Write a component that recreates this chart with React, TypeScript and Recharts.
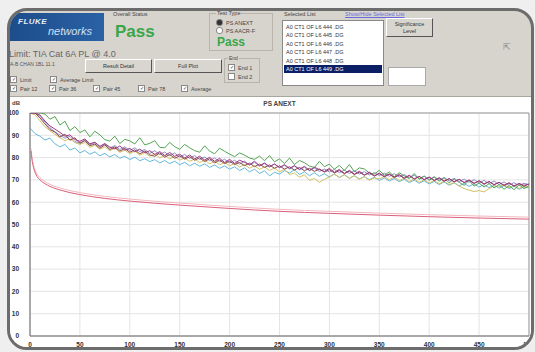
import React from "react";
import { LineChart, Line, XAxis, YAxis, CartesianGrid, ReferenceArea } from "recharts";

// Frequency sample points (MHz), every 5 MHz from 0 to 500
const FREQ: number[] = Array.from({ length: 101 }, (_, i) => i * 5);

const X_TICKS = [0, 50, 100, 150, 200, 250, 300, 350, 400, 450, 500];
const Y_TICKS = [0, 10, 20, 30, 40, 50, 60, 70, 80, 90, 100];

// PS ANEXT per pair (dB)
const PAIR_GREEN = [
  100, 100, 100, 99.5, 97.2, 98.4, 94.6, 96.3, 92.1, 93.9,
  91.2, 92.4, 89.3, 91.8, 90.2, 88.1, 87.4, 89.6, 86.3, 88.2,
  87.5, 86.1, 88.9, 85.7, 86.4, 87.6, 84.6, 84.4, 86.8, 84.9,
  83.7, 85.9, 84.4, 83.1, 82.4, 85.3, 82.9, 81.7, 84.2, 82.8,
  81.6, 80.4, 82.1, 81.1, 79.8, 79.2, 80.7, 78.6, 80.9, 78.1,
  79.4, 77.3, 79.8, 76.9, 78.7, 77.7, 76.2, 75.6, 78.3, 75.9,
  77.1, 74.8, 76.5, 74.2, 76.9, 73.7, 75.4, 74.9, 73.1, 72.6,
  74.3, 72.1, 73.6, 71.4, 73.2, 71.8, 70.6, 72.9, 70.2, 71.7,
  69.8, 71.3, 69.4, 70.9, 68.7, 70.4, 68.9, 67.6, 69.8, 67.2,
  68.6, 66.8, 68.3, 66.4, 67.9, 65.8, 67.4, 65.6, 67.8, 66.1,
  67.3,
];
const PAIR_MAGENTA = [
  100, 100, 99.1, 96.4, 94.2, 92.8, 91.3, 89.6, 90.2, 88.1,
  87.3, 88.4, 86.2, 86.9, 85.1, 86.3, 84.7, 83.9, 85.2, 83.4,
  84.1, 82.6, 83.8, 82.2, 83.1, 81.4, 82.7, 80.9, 82.3, 80.6,
  81.5, 79.8, 81.2, 79.4, 80.6, 78.9, 80.1, 78.3, 79.7, 77.8,
  79.2, 77.4, 78.8, 77.9, 76.8, 78.4, 76.3, 77.6, 75.9, 77.2,
  75.6, 76.8, 75.2, 76.4, 74.8, 76.1, 74.3, 75.7, 74.6, 73.8,
  75.2, 73.4, 74.7, 72.9, 74.3, 72.6, 73.9, 72.2, 73.5, 71.8,
  73.1, 71.5, 72.7, 71.2, 72.4, 70.8, 72.1, 70.4, 71.6, 70.1,
  71.3, 69.7, 70.9, 69.4, 70.6, 69.1, 70.2, 68.8, 69.9, 68.4,
  69.6, 68.1, 69.3, 67.8, 68.9, 67.5, 68.7, 67.2, 68.4, 67.6,
  68.1,
];
const PAIR_BROWN = [
  100, 100, 97.8, 95.1, 92.6, 91.4, 89.2, 90.5, 87.8, 88.9,
  86.4, 87.6, 85.3, 86.1, 84.2, 85.7, 83.6, 84.8, 82.9, 84.1,
  82.4, 83.5, 81.7, 82.9, 81.2, 80.6, 82.1, 80.2, 81.4, 79.7,
  80.8, 79.3, 80.4, 78.8, 79.9, 78.2, 79.5, 77.6, 78.9, 77.3,
  78.4, 76.9, 77.8, 76.4, 77.5, 75.9, 77.1, 75.6, 76.7, 75.2,
  76.3, 74.8, 75.9, 74.4, 75.6, 74.1, 75.2, 73.8, 74.9, 73.5,
  74.6, 73.1, 74.2, 72.8, 73.9, 72.4, 73.5, 72.1, 73.2, 71.7,
  72.8, 71.4, 72.5, 71.1, 72.2, 70.7, 71.9, 70.4, 71.5, 70.1,
  71.2, 69.8, 70.9, 69.5, 70.5, 69.2, 70.3, 68.8, 69.9, 68.5,
  69.6, 68.2, 69.2, 67.9, 68.9, 67.6, 68.6, 67.3, 68.3, 67.1,
  68.2,
];
const PAIR_CYAN = [
  93.2, 90.8, 89.6, 87.9, 88.7, 86.2, 84.8, 85.9, 83.4, 84.3,
  82.1, 83.2, 81.5, 82.6, 80.8, 81.9, 80.3, 81.4, 79.7, 80.6,
  79.1, 80.2, 78.6, 79.5, 78.2, 79.1, 77.6, 78.7, 77.3, 78.4,
  76.8, 77.9, 76.3, 77.5, 76.1, 77.2, 75.6, 76.7, 75.2, 76.3,
  74.8, 75.9, 74.2, 75.4, 73.6, 74.8, 72.9, 74.1, 71.8, 73.4,
  72.6, 74.2, 73.1, 74.5, 72.4, 73.6, 71.9, 73.2, 71.6, 72.8,
  71.3, 72.6, 71.1, 72.3, 70.7, 71.9, 70.4, 71.5, 70.1, 71.2,
  69.8, 70.9, 69.5, 70.6, 69.2, 70.3, 68.8, 69.9, 68.5, 69.6,
  68.2, 69.3, 67.9, 69.1, 67.6, 68.7, 67.3, 68.4, 67.1, 68.2,
  66.8, 67.9, 66.5, 67.6, 66.3, 67.4, 66.1, 67.2, 65.8, 66.9,
  66.4,
];
const PAIR_YELLOW = [
  100, 99.2, 96.5, 93.8, 92.1, 90.4, 88.9, 87.6, 88.4, 86.7,
  85.9, 86.8, 84.6, 85.5, 83.8, 84.9, 83.1, 84.2, 82.4, 83.3,
  81.8, 82.9, 81.1, 82.2, 80.6, 81.7, 79.9, 81.1, 79.4, 80.5,
  78.9, 79.8, 78.3, 79.4, 77.8, 78.9, 77.2, 78.4, 76.8, 77.9,
  76.3, 77.4, 75.8, 76.9, 75.2, 76.4, 74.7, 75.9, 74.2, 75.3,
  73.6, 74.8, 72.4, 73.1, 71.2, 72.3, 69.8, 70.6, 68.9, 70.2,
  71.4, 72.6, 71.1, 72.3, 70.7, 71.8, 70.3, 71.4, 69.9, 70.9,
  70.4, 71.6, 70.1, 71.3, 69.7, 70.8, 69.3, 70.5, 68.9, 70.1,
  68.6, 69.7, 68.3, 69.4, 67.9, 68.8, 67.2, 66.1, 65.4, 64.8,
  65.2, 64.6, 66.1, 67.3, 66.8, 67.9, 66.5, 67.6, 66.2, 67.1,
  66.7,
];
const PAIR_LAVENDER = [
  100, 100, 98.6, 95.9, 93.4, 91.6, 90.1, 88.7, 89.5, 87.2,
  86.5, 87.9, 85.8, 86.7, 84.9, 86.1, 84.3, 85.4, 83.6, 84.8,
  83.2, 84.4, 82.7, 83.6, 81.9, 83.1, 81.3, 82.5, 80.8, 82.1,
  80.2, 81.4, 79.7, 80.9, 79.1, 80.3, 78.6, 79.8, 78.1, 79.3,
  77.6, 78.8, 77.1, 78.4, 76.6, 77.9, 76.2, 77.3, 75.8, 77.1,
  75.4, 76.6, 74.9, 76.2, 74.5, 75.7, 74.1, 75.3, 73.8, 74.9,
  73.5, 74.7, 73.2, 74.4, 72.9, 74.1, 72.6, 73.7, 72.2, 73.3,
  71.9, 73.1, 71.6, 72.8, 71.3, 72.4, 70.9, 72.1, 70.6, 71.7,
  70.2, 71.4, 69.9, 71.1, 69.6, 70.7, 69.2, 70.4, 68.9, 70.1,
  68.6, 69.8, 68.3, 69.5, 67.9, 69.1, 67.6, 68.8, 67.4, 68.5,
  67.9,
];

// Limit curves
const LIMIT_FREQ = [1, 2, 3, 4, 5, 7, 10, 15, 20, 30, 40, 50, 75, 100, 150, 200, 250, 300, 350, 400, 450, 500];
const LIMIT = [83, 79, 76.5, 74.8, 73.4, 71.6, 70, 68.3, 67.1, 65.5, 64.3, 63.4, 61.7, 60.5, 58.7, 57.2, 55.9, 55.0, 54.2, 53.5, 52.9, 52.4];
const AVG_LIMIT = [84.2, 80.2, 77.6, 75.8, 74.4, 72.6, 71.0, 69.2, 68.0, 66.4, 65.2, 64.3, 62.6, 61.4, 59.6, 58.1, 56.8, 55.9, 55.1, 54.4, 53.8, 53.3];

const LIST_ITEMS = [
  "A0 CT1 OF L6 444 .DG",
  "A0 CT1 OF L6 445 .DG",
  "A0 CT1 OF L6 446 .DG",
  "A0 CT1 OF L6 447 .DG",
  "A0 CT1 OF L6 448 .DG",
  "A0 CT1 OF L6 449 .DG",
];

const pairData = FREQ.map((f, i) => ({
  f,
  g: PAIR_GREEN[i],
  m: PAIR_MAGENTA[i],
  b: PAIR_BROWN[i],
  c: PAIR_CYAN[i],
  y: PAIR_YELLOW[i],
  l: PAIR_LAVENDER[i],
}));
const limitData = LIMIT_FREQ.map((f, i) => ({ f, lim: LIMIT[i], avg: AVG_LIMIT[i] }));

const FONT = '"Liberation Sans", Arial, sans-serif';

const abs = (left: number, top: number, extra: React.CSSProperties = {}): React.CSSProperties => ({
  position: "absolute",
  left,
  top,
  ...extra,
});

const Check = ({ x, y, label, checked = true }: { x: number; y: number; label: string; checked?: boolean }) => (
  <div style={abs(x, y, { display: "flex", alignItems: "center", fontSize: 5.5, color: "#444", whiteSpace: "nowrap" })}>
    <span
      style={{
        width: 5,
        height: 5,
        border: "1px solid #888",
        background: "#fff",
        marginRight: 3,
        fontSize: 5,
        lineHeight: "5px",
        textAlign: "center",
        color: "#333",
      }}
    >
      {checked ? "✓" : ""}
    </span>
    {label}
  </div>
);

const Radio = ({ x, y, label, on }: { x: number; y: number; label: string; on: boolean }) => (
  <div style={abs(x, y, { display: "flex", alignItems: "center", fontSize: 5.5, color: "#444", whiteSpace: "nowrap" })}>
    <span
      style={{
        width: 5,
        height: 5,
        borderRadius: 3,
        border: "1px solid #888",
        background: on ? "#333" : "#fff",
        marginRight: 3,
      }}
    />
    {label}
  </div>
);

const Button = ({ x, y, w, h, label }: { x: number; y: number; w: number; h: number; label: React.ReactNode }) => (
  <div
    style={abs(x, y, {
      width: w,
      height: h,
      boxSizing: "border-box",
      border: "1px solid #555",
      borderTopColor: "#fff",
      borderLeftColor: "#fff",
      background: "#d9d6d0",
      fontSize: 5.5,
      color: "#333",
      display: "flex",
      alignItems: "center",
      justifyContent: "center",
      textAlign: "center",
      lineHeight: 1.1,
    })}
  >
    {label}
  </div>
);

export default function App() {
  return (
    <div style={{ position: "absolute", left: 0, top: 0, width: 535, height: 352, background: "#efefef", overflow: "hidden", fontFamily: FONT }}>
      <div
        style={abs(7, 8, {
          width: 527,
          height: 342,
          boxSizing: "border-box",
          border: "3px solid #6c6c6c",
          borderRadius: 20,
          overflow: "hidden",
          background: "#d7d4ce",
        })}
      >
        <div style={abs(-10, -11, { width: 535, height: 352 })}>
          {/* Fluke logo */}
          <div style={abs(8, 13, { width: 96, height: 28, background: "linear-gradient(90deg,#1d4c8a,#2a62a6)" })}>
            <div style={abs(10, 4, { fontSize: 8, fontWeight: "bold", fontStyle: "italic", color: "#e8eef8", letterSpacing: 0.5 })}>FLUKE</div>
            <div style={abs(40, 12, { fontSize: 11, color: "#cfe0f4", fontStyle: "italic" })}>networks</div>
          </div>
          {/* Overall status */}
          <div style={abs(113, 11, { fontSize: 5.5, color: "#444" })}>Overall Status</div>
          <div style={abs(115, 23, { fontSize: 17, lineHeight: 1, fontWeight: "bold", color: "#3aa64a" })}>Pass</div>

          {/* Test type group */}
          <div style={abs(209, 13, { width: 64, height: 38, border: "1px solid #b8b4ac", boxSizing: "border-box" })} />
          <div style={abs(216, 10, { fontSize: 5.5, color: "#444", background: "#d7d4ce", padding: "0 1px" })}>Test Type</div>
          <Radio x={216} y={19} label="PS ANEXT" on={true} />
          <Radio x={216} y={27} label="PS AACR-F" on={false} />
          <div style={abs(217, 36, { fontSize: 12, lineHeight: 1, fontWeight: "bold", color: "#3aa64a" })}>Pass</div>

          {/* Selected list */}
          <div style={abs(284, 11, { fontSize: 5.5, color: "#444" })}>Selected List</div>
          <div style={abs(345, 11, { fontSize: 5.5, color: "#6a6adf", textDecoration: "underline" })}>Show/Hide Selected List</div>
          <div style={abs(282, 20, { width: 102, height: 66, background: "#fff", border: "1px solid #888", boxSizing: "border-box" })}>
            {LIST_ITEMS.map((t, i) => (
              <div
                key={t}
                style={{
                  position: "absolute",
                  left: 1,
                  top: 2 + i * 8.4,
                  width: 98,
                  height: 8,
                  fontSize: 5.5,
                  lineHeight: "8px",
                  paddingLeft: 2,
                  boxSizing: "border-box",
                  color: i === 5 ? "#fff" : "#333",
                  background: i === 5 ? "#0a1f66" : "transparent",
                }}
              >
                {t}
              </div>
            ))}
          </div>
          <Button x={386} y={18} w={47} h={19} label={<span>Significance<br />Level</span>} />
          <div style={abs(388, 67, { width: 38, height: 19, background: "#fff", border: "1px solid #aaa", boxSizing: "border-box" })} />

          {/* cursor */}
          <div style={abs(503, 42, { fontSize: 9, color: "#888" })}>⇱</div>

          {/* Limit text */}
          <div style={abs(9, 49, { fontSize: 9, color: "#666", whiteSpace: "nowrap" })}>Limit: TIA Cat 6A PL @ 4.0</div>
          <div style={abs(10, 61, { fontSize: 5, color: "#555", whiteSpace: "nowrap" })}>A-B CHAN 1BL 11.1</div>
          <Button x={85} y={59} w={67} h={14} label="Result Detail" />
          <Button x={154} y={59} w={68} h={14} label="Full Plot" />

          {/* End group */}
          <div style={abs(224, 58, { width: 36, height: 25, border: "1px solid #b8b4ac", boxSizing: "border-box" })} />
          <div style={abs(228, 55, { fontSize: 5, color: "#444", background: "#d7d4ce", padding: "0 1px" })}>End</div>
          <Check x={228} y={64} label="End 1" />
          <Check x={228} y={73} label="End 2" checked={false} />

          {/* Checkbox rows */}
          <Check x={10} y={76} label="Limit" />
          <Check x={50} y={76} label="Average Limit" />
          <Check x={10} y={85} label="Pair 12" />
          <Check x={49} y={85} label="Pair 36" />
          <Check x={93} y={85} label="Pair 45" />
          <Check x={138} y={85} label="Pair 78" />
          <Check x={181} y={85} label="Average" />

          {/* Chart panel */}
          <div style={abs(10, 96, { width: 530, height: 260, background: "#fff", borderTop: "1px solid #a9a6a0" })} />
          <div style={abs(12, 100, { fontSize: 6, fontWeight: "bold", color: "#444" })}>dB</div>
          <div style={abs(229, 100, { width: 101, textAlign: "center", fontSize: 6.5, fontWeight: "bold", color: "#444" })}>PS ANEXT</div>

          <div style={abs(0, 96, {})}>
            <LineChart width={535} height={256} data={pairData} margin={{ top: 17, right: 6, left: 10, bottom: 2 }}>
              <CartesianGrid stroke="#e4e4e4" strokeWidth={1} />
              <XAxis
                dataKey="f"
                type="number"
                domain={[0, 500]}
                ticks={X_TICKS}
                interval={0}
                height={14}
                tickLine={false}
                axisLine={{ stroke: "#8c8c8c" }}
                tickMargin={0}
                tick={{ fontSize: 6.5, fill: "#333", fontWeight: "bold", fontFamily: FONT }}
              />
              <YAxis
                type="number"
                domain={[0, 100]}
                ticks={Y_TICKS}
                interval={0}
                width={20}
                allowDataOverflow
                tickLine={false}
                axisLine={{ stroke: "#8c8c8c" }}
                tickMargin={5}
                tick={{ fontSize: 6.5, fill: "#333", fontWeight: "bold", fontFamily: FONT }}
              />
              <ReferenceArea x1={0} x2={500} y1={0} y2={100} fill="none" stroke="#9a9a9a" strokeWidth={1} ifOverflow="visible" />
              <Line data={limitData} dataKey="avg" type="monotone" stroke="#f2b7bd" strokeWidth={1} dot={false} isAnimationActive={false} />
              <Line data={limitData} dataKey="lim" type="monotone" stroke="#d9607a" strokeWidth={1} dot={false} isAnimationActive={false} />
              <Line dataKey="c" type="linear" stroke="#62b8dc" strokeWidth={1} dot={false} isAnimationActive={false} />
              <Line dataKey="y" type="linear" stroke="#cfc063" strokeWidth={1} dot={false} isAnimationActive={false} />
              <Line dataKey="l" type="linear" stroke="#8d8fc6" strokeWidth={1} dot={false} isAnimationActive={false} />
              <Line dataKey="g" type="linear" stroke="#52a452" strokeWidth={1} dot={false} isAnimationActive={false} />
              <Line dataKey="b" type="linear" stroke="#8a4848" strokeWidth={1} dot={false} isAnimationActive={false} />
              <Line dataKey="m" type="linear" stroke="#a03a84" strokeWidth={1} dot={false} isAnimationActive={false} />
            </LineChart>
          </div>
        </div>
      </div>
    </div>
  );
}
